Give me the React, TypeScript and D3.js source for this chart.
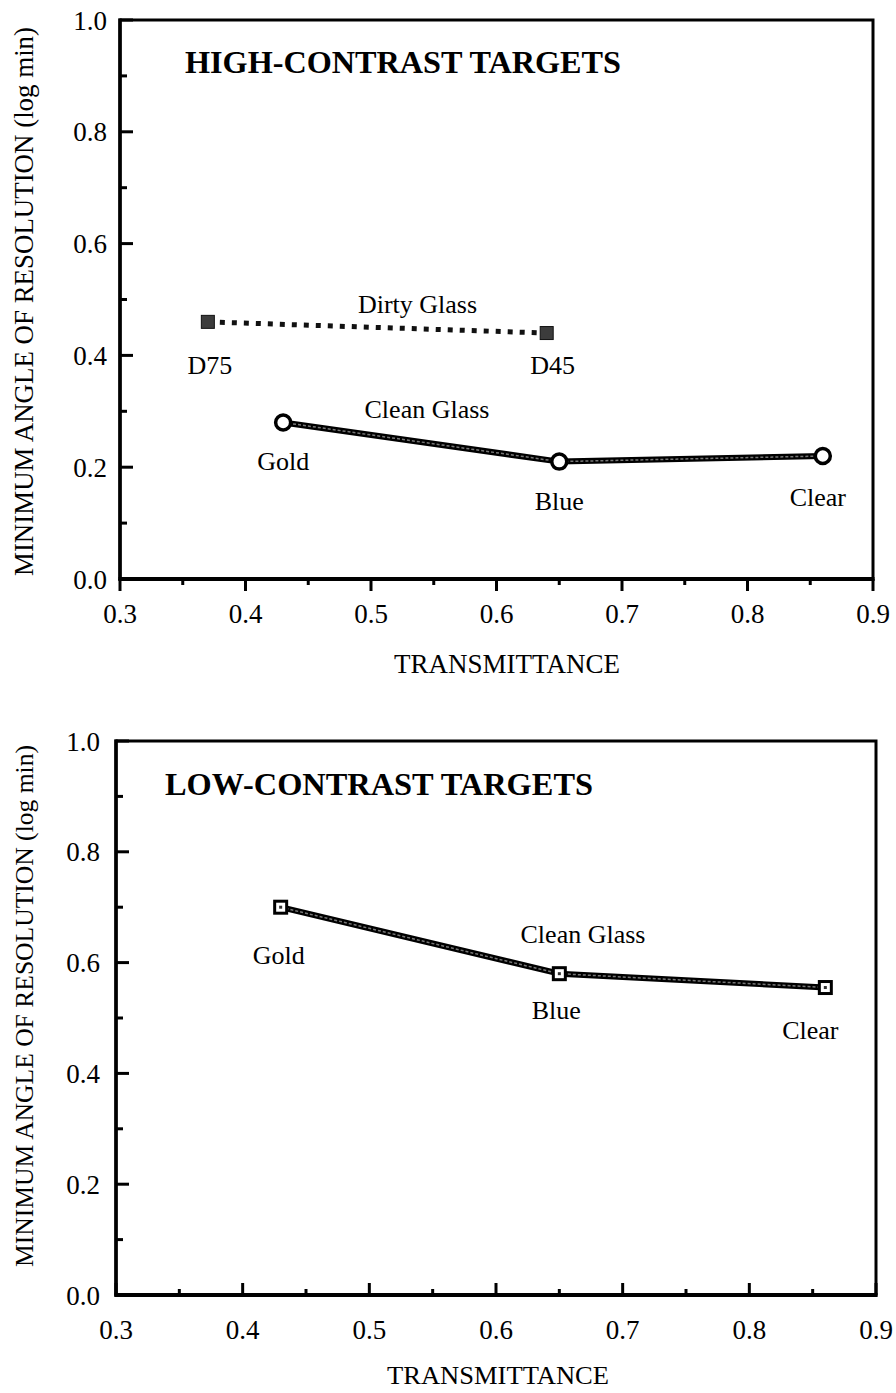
import React from "react";
import * as d3 from "d3";

// ---------- data ----------
const xTickValues = [0.3, 0.4, 0.5, 0.6, 0.7, 0.8, 0.9];
const xMinorValues = [0.35, 0.45, 0.55, 0.65, 0.75, 0.85];
const yTickValues = [0.0, 0.2, 0.4, 0.6, 0.8, 1.0];
const yMinorValues = [0.1, 0.3, 0.5, 0.7, 0.9];

const filterNames = ["Gold", "Blue", "Clear"];
const hcCleanX = [0.43, 0.65, 0.86];
const hcCleanY = [0.28, 0.21, 0.22];

const dirtyNames = ["D75", "D45"];
const hcDirtyX = [0.37, 0.64];
const hcDirtyY = [0.46, 0.44];

const lcCleanX = [0.43, 0.65, 0.86];
const lcCleanY = [0.70, 0.58, 0.555];

const yTitle = "MINIMUM ANGLE OF RESOLUTION (log min)";
const xTitle = "TRANSMITTANCE";

// ---------- layout ----------
const FONT = '"Liberation Serif", "Times New Roman", "DejaVu Serif", serif';
const W = 896;
const H = 1393;

const top = { left: 120, right: 873, top: 20, bottom: 579 };
const bot = { left: 116, right: 876, top: 741, bottom: 1295 };

const fmt = d3.format(".1f");

type Box = typeof top;

const T = (props: any) => <text fontFamily={FONT} style={{ fontFamily: FONT }} {...props} />;

function Axes({ b, xTicksOut, yLabelRight }: { b: Box; xTicksOut: boolean; yLabelRight: number }) {
  const x = d3.scaleLinear().domain([0.3, 0.9]).range([b.left, b.right]);
  const y = d3.scaleLinear().domain([0, 1]).range([b.bottom, b.top]);
  const dir = xTicksOut ? 1 : -1;
  return (
    <g>
      <rect x={b.left} y={b.top} width={b.right - b.left} height={b.bottom - b.top} fill="none" stroke="#000" strokeWidth={3} />
      <line x1={b.left - 1.5} x2={b.right + 1.5} y1={b.bottom} y2={b.bottom} stroke="#000" strokeWidth={4} />
      <line x1={b.left} x2={b.left} y1={b.top - 1.5} y2={b.bottom + 1.5} stroke="#000" strokeWidth={3.5} />
      {xTickValues.map((v) => (
        <g key={"xt" + v}>
          <line x1={x(v)} x2={x(v)} y1={b.bottom} y2={b.bottom + dir * 12} stroke="#000" strokeWidth={3} />
          <T x={x(v)} y={b.bottom + 44} textAnchor="middle" fontSize={27}>
            {fmt(v)}
          </T>
        </g>
      ))}
      {xMinorValues.map((v) => (
        <line key={"xm" + v} x1={x(v)} x2={x(v)} y1={b.bottom} y2={b.bottom + dir * 6} stroke="#000" strokeWidth={3} />
      ))}
      {yTickValues.map((v) => (
        <g key={"yt" + v}>
          <line x1={b.left} x2={b.left + 13} y1={y(v)} y2={y(v)} stroke="#000" strokeWidth={3} />
          <T x={yLabelRight} y={y(v) + 9.5} textAnchor="end" fontSize={27}>
            {fmt(v)}
          </T>
        </g>
      ))}
      {yMinorValues.map((v) => (
        <line key={"ym" + v} x1={b.left} x2={b.left + 7} y1={y(v)} y2={y(v)} stroke="#000" strokeWidth={3} />
      ))}
    </g>
  );
}

function CleanLine({ b, xs, ys }: { b: Box; xs: number[]; ys: number[] }) {
  const x = d3.scaleLinear().domain([0.3, 0.9]).range([b.left, b.right]);
  const y = d3.scaleLinear().domain([0, 1]).range([b.bottom, b.top]);
  const pts: [number, number][] = xs.map((v, i) => [x(v), y(ys[i])]);
  const path = d3.line()(pts) || "";
  return (
    <g>
      <path d={path} fill="none" stroke="#000" strokeWidth={6} strokeLinejoin="round" />
      <path d={path} fill="none" stroke="#777" strokeWidth={1.5} strokeDasharray="3 2" />
    </g>
  );
}

export default function App() {
  const xt = d3.scaleLinear().domain([0.3, 0.9]).range([top.left, top.right]);
  const yt = d3.scaleLinear().domain([0, 1]).range([top.bottom, top.top]);
  const xb = d3.scaleLinear().domain([0.3, 0.9]).range([bot.left, bot.right]);
  const yb = d3.scaleLinear().domain([0, 1]).range([bot.bottom, bot.top]);

  const hcLabelOff = [
    [0, 48],
    [0, 48],
    [-5, 50],
  ];
  const dirtyLabelOff = [
    [2, 52],
    [6, 41],
  ];
  const lcLabelOff = [
    [-2, 57],
    [-3, 45],
    [-15, 51],
  ];

  const dirtyPts: [number, number][] = hcDirtyX.map((v, i) => [xt(v), yt(hcDirtyY[i])]);

  return (
    <svg
      width={W}
      height={H}
      viewBox={`0 0 ${W} ${H}`}
      style={{ position: "absolute", left: 0, top: 0, background: "#fff", fontFamily: FONT }}
    >
      <rect x={0} y={0} width={W} height={H} fill="#fff" />

      {/* ================= TOP PANEL ================= */}
      <Axes b={top} xTicksOut={true} yLabelRight={107} />
      <T x={185} y={73} fontSize={32} fontWeight="bold" textLength={436} lengthAdjust="spacingAndGlyphs">
        HIGH-CONTRAST TARGETS
      </T>

      <path d={d3.line()(dirtyPts) || ""} fill="none" stroke="#111" strokeWidth={5} strokeDasharray="5 7" />
      {dirtyPts.map((p, i) => (
        <rect key={"dg" + i} x={p[0] - 6.5} y={p[1] - 6.5} width={13} height={13} fill="#3c3c3c" stroke="#111" strokeWidth={1} />
      ))}
      {dirtyNames.map((n, i) => (
        <T key={"dn" + n} x={dirtyPts[i][0] + dirtyLabelOff[i][0]} y={dirtyPts[i][1] + dirtyLabelOff[i][1]} textAnchor="middle" fontSize={26}>
          {n}
        </T>
      ))}
      <T x={417.5} y={313} textAnchor="middle" fontSize={26}>
        Dirty Glass
      </T>

      <CleanLine b={top} xs={hcCleanX} ys={hcCleanY} />
      {hcCleanX.map((v, i) => (
        <circle key={"hc" + i} cx={xt(v)} cy={yt(hcCleanY[i])} r={7.5} fill="#fff" stroke="#000" strokeWidth={3.5} />
      ))}
      {filterNames.map((n, i) => (
        <T key={"hn" + n} x={xt(hcCleanX[i]) + hcLabelOff[i][0]} y={yt(hcCleanY[i]) + hcLabelOff[i][1]} textAnchor="middle" fontSize={26}>
          {n}
        </T>
      ))}
      <T x={427} y={418} textAnchor="middle" fontSize={26}>
        Clean Glass
      </T>

      <T x={507} y={673} textAnchor="middle" fontSize={27}>
        {xTitle}
      </T>
      <T
        transform={`translate(33, ${(top.top + top.bottom) / 2 + 2}) rotate(-90)`}
        textAnchor="middle"
        fontSize={27}
        textLength={549}
        lengthAdjust="spacingAndGlyphs"
      >
        {yTitle}
      </T>

      {/* ================= BOTTOM PANEL ================= */}
      <Axes b={bot} xTicksOut={false} yLabelRight={100} />
      <T x={165} y={795} fontSize={32} fontWeight="bold" textLength={428} lengthAdjust="spacingAndGlyphs">
        LOW-CONTRAST TARGETS
      </T>

      <CleanLine b={bot} xs={lcCleanX} ys={lcCleanY} />
      {lcCleanX.map((v, i) => (
        <g key={"lc" + i}>
          <rect x={xb(v) - 6} y={yb(lcCleanY[i]) - 6} width={12} height={12} fill="#fff" stroke="#000" strokeWidth={3} />
          <rect x={xb(v) - 1.5} y={yb(lcCleanY[i]) - 1.5} width={3} height={3} fill="#333" />
        </g>
      ))}
      {filterNames.map((n, i) => (
        <T key={"ln" + n} x={xb(lcCleanX[i]) + lcLabelOff[i][0]} y={yb(lcCleanY[i]) + lcLabelOff[i][1]} textAnchor="middle" fontSize={26}>
          {n}
        </T>
      ))}
      <T x={583} y={943} textAnchor="middle" fontSize={26}>
        Clean Glass
      </T>

      <T x={498} y={1384} textAnchor="middle" fontSize={26} textLength={222} lengthAdjust="spacingAndGlyphs">
        {xTitle}
      </T>
      <T
        transform={`translate(33, 1006) rotate(-90)`}
        textAnchor="middle"
        fontSize={26}
        textLength={522}
        lengthAdjust="spacingAndGlyphs"
      >
        {yTitle}
      </T>
    </svg>
  );
}
